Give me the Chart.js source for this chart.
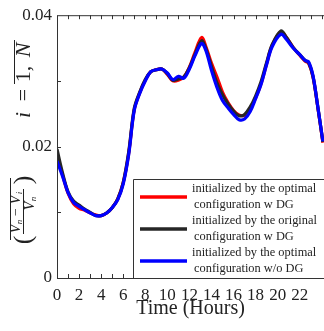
<!DOCTYPE html>
<html>
<head>
<meta charset="utf-8">
<script src="https://cdn.jsdelivr.net/npm/chart.js@4"></script>
<style>
  html,body{margin:0;padding:0;background:#fff;}
  #wrap{width:324px;height:331px;position:relative;}
</style>
</head>
<body>
<div id="wrap"><canvas id="myChart" width="324" height="331"></canvas></div>
<script>
// hours of the day (x values shared by all three curves)
const hours=[0,0.5,1,1.5,2,2.5,3,3.5,4,4.5,5,5.5,6,6.5,7,7.5,8,8.5,9,9.5,10,10.5,11,11.5,12,12.5,13.1,13.5,14,14.5,15,15.5,16,16.5,17,17.5,18,18.5,19,19.5,20.3,20.8,21.4,22,22.5,22.8,23.2,23.6,24.1];

const optimalDG=[0.0186,0.0157,0.0129,0.0113,0.0106,0.0103,0.0099,0.0096,0.0095,0.0099,0.0107,0.0120,0.0145,0.0190,0.0256,0.0282,0.0301,0.0314,0.0317,0.0318,0.0310,0.0300,0.0301,0.0306,0.0321,0.0343,0.0366,0.0352,0.0327,0.0306,0.0283,0.0267,0.0255,0.0248,0.0248,0.0258,0.0274,0.0296,0.0326,0.0354,0.0375,0.0366,0.0351,0.0339,0.0330,0.0327,0.0306,0.0264,0.0206];
const originalDG=[0.0196,0.0160,0.0131,0.0117,0.0111,0.0105,0.0100,0.0095,0.0095,0.0099,0.0107,0.0120,0.0145,0.0192,0.0258,0.0283,0.0302,0.0314,0.0317,0.0318,0.0311,0.0301,0.0303,0.0306,0.0320,0.0340,0.0361,0.0349,0.0322,0.0297,0.0279,0.0265,0.0254,0.0247,0.0249,0.0260,0.0277,0.0299,0.0328,0.0355,0.0376,0.0366,0.0351,0.0340,0.0331,0.0328,0.0307,0.0265,0.0207];
const optimalNoDG=[0.0178,0.0155,0.0130,0.0115,0.0109,0.0104,0.0099,0.0095,0.0095,0.0099,0.0107,0.0119,0.0143,0.0188,0.0255,0.0281,0.0300,0.0314,0.0317,0.0318,0.0312,0.0302,0.0307,0.0304,0.0318,0.0338,0.0357,0.0346,0.0316,0.0290,0.0270,0.0259,0.0249,0.0241,0.0242,0.0253,0.0273,0.0295,0.0325,0.0352,0.0371,0.0363,0.0350,0.0340,0.0331,0.0329,0.0308,0.0265,0.0208];

const seriesNames=[["initialized by the optimal","configuration w DG"],["initialized by the original","configuration w DG"],["initialized by the optimal","configuration w/o DG"]];
const seriesColors=["#ff0000","#262626","#0000ff"];
const xTickLabels=[0,2,4,6,8,10,12,14,16,18,20,22];
const yTickLabels=["0","0.02","0.04"];

const serif="'Liberation Serif','Times New Roman',serif";
const ink="#222";

function pts(arr){return hours.map((h,i)=>({x:h,y:arr[i]}));}

function rotText(ctx,t,x,y,font){
  ctx.save();
  ctx.translate(x,y);
  ctx.rotate(-Math.PI/2);
  ctx.font=font;
  ctx.textAlign="center";
  ctx.textBaseline="alphabetic";
  ctx.fillText(t,0,0);
  ctx.restore();
}

const framePlugin={
  id:"frame",
  afterDraw(chart){
    const ctx=chart.ctx, a=chart.chartArea;
    const xs=chart.scales.x, ys=chart.scales.y;
    ctx.save();
    ctx.strokeStyle="#333";
    ctx.lineWidth=1;
    ctx.beginPath();
    ctx.moveTo(a.left+0.5,a.top+0.5);ctx.lineTo(a.right,a.top+0.5);
    ctx.moveTo(a.left+0.5,a.top);ctx.lineTo(a.left+0.5,a.bottom+0.5);
    ctx.moveTo(a.left,a.bottom+0.5);ctx.lineTo(a.right,a.bottom+0.5);
    // minor ticks every hour, pointing inward
    for(let h=1;h<=24;h++){
      const px=Math.round(xs.getPixelForValue(h))+0.5;
      ctx.moveTo(px,a.bottom);ctx.lineTo(px,a.bottom-4);
      ctx.moveTo(px,a.top);ctx.lineTo(px,a.top+4);
    }
    for(let v=0.01;v<0.04;v+=0.01){
      const py=Math.round(ys.getPixelForValue(v))+0.5;
      ctx.moveTo(a.left,py);ctx.lineTo(a.left+4,py);
    }
    ctx.stroke();

    // legend box
    const bx=133.5, by=179.5;
    ctx.fillStyle="#fff";
    ctx.fillRect(bx,by,a.right-bx+2,a.bottom-by);
    ctx.strokeStyle="#333";
    ctx.beginPath();
    ctx.moveTo(a.right+2,by);ctx.lineTo(bx,by);ctx.lineTo(bx,a.bottom+0.5);
    ctx.stroke();
    ctx.font="12.4px "+serif;
    ctx.fillStyle=ink;
    ctx.textAlign="left";
    ctx.textBaseline="middle";
    for(let i=0;i<3;i++){
      const ly=197+i*32;
      ctx.strokeStyle=seriesColors[i];
      ctx.lineWidth=3.5;
      ctx.beginPath();ctx.moveTo(140,ly);ctx.lineTo(187,ly);ctx.stroke();
      ctx.fillText(seriesNames[i][0],192,ly-8);
      ctx.fillText(seriesNames[i][1],194,ly+8);
    }

    // y axis title (math expression, rotated)
    ctx.fillStyle=ink;
    ctx.strokeStyle=ink;
    const mi="italic 22px "+serif, mr="22px "+serif;
    rotText(ctx,"i",30,115,mi);
    rotText(ctx,"=",30,95,mr);
    rotText(ctx,"1,",30,74,mr);
    rotText(ctx,"N",30,50,mi);
    ctx.lineWidth=1;
    ctx.beginPath();
    ctx.moveTo(14.5,40);ctx.lineTo(14.5,84);
    // fraction
    ctx.moveTo(10.5,178);ctx.lineTo(10.5,240);
    ctx.moveTo(23.5,189);ctx.lineTo(23.5,234);
    ctx.stroke();
    const fi="italic 14px "+serif, fs="italic 9px "+serif, fr="14px "+serif;
    rotText(ctx,"V",20,229,fi);rotText(ctx,"n",22,222,fs);
    rotText(ctx,"\u2212",20,212,fr);
    rotText(ctx,"V",20,200,fi);rotText(ctx,"i",22,193,fs);
    rotText(ctx,"V",34,206,fi);rotText(ctx,"n",36,199,fs);
    rotText(ctx,"(",31,240,"26px "+serif);
    rotText(ctx,")",31,180,"26px "+serif);
    ctx.restore();
  }
};

const datasets=[optimalDG,originalDG,optimalNoDG].map((arr,i)=>({
  label:seriesNames[i].join(" "),
  data:pts(arr),
  borderColor:seriesColors[i],
  borderWidth:3.2,
  pointRadius:0,
  fill:false,
  tension:0.35,
  order:3-i
}));

let myChart=document.querySelector("#myChart").getContext("2d");
var chart=new Chart(myChart,{
  type:"line",
  data:{datasets:datasets},
  options:{
    responsive:false,
    animation:false,
    layout:{padding:{top:14,right:0,left:0,bottom:0}},
    plugins:{legend:{display:false},tooltip:{enabled:false}},
    scales:{
      x:{
        type:"linear",min:0,max:24.2,
        grid:{display:false,drawTicks:false},
        border:{display:false},
        afterFit(s){s.height=53;s.paddingLeft=0;s.paddingRight=0;},
        ticks:{
          stepSize:2,autoSkip:false,maxRotation:0,padding:7,
          color:ink,font:{family:serif,size:17},
          callback:(v)=>xTickLabels.includes(v)?String(v):""
        },
        title:{display:true,text:"Time (Hours)",color:ink,font:{family:serif,size:20},padding:{top:0,bottom:10}}
      },
      y:{
        min:0,max:0.04,
        grid:{display:false,drawTicks:false},
        border:{display:false},
        afterFit(s){s.width=57;},
        ticks:{
          stepSize:0.01,padding:5,
          color:ink,font:{family:serif,size:17},
          callback:(v,i)=>i%2===0?yTickLabels[i/2]:""
        }
      }
    }
  },
  plugins:[framePlugin]
});
</script>
</body>
</html>
